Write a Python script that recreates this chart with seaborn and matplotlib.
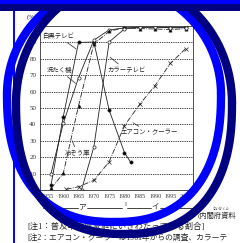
import numpy as np
import pandas as pd
import matplotlib
matplotlib.use("Agg")
import matplotlib.pyplot as plt
from matplotlib.patches import Rectangle
from matplotlib.lines import Line2D
import seaborn as sns

# diffusion rates (%)
bw_years = [1956, 1960, 1965, 1970, 1975, 1980, 1982]
bw_tv = [3, 44.7, 90, 90.2, 48.7, 22.8, 17]

wash_years = [1956, 1960, 1965, 1970, 1975, 1980, 1985, 1990, 1995, 2000]
washer = [10, 40.6, 68.5, 91.4, 97.6, 98.8, 99.2, 99.3, 99.0, 99.3]

fridge_years = [1956, 1960, 1965, 1970, 1975, 1980, 1985, 1990, 1995, 2000]
fridge = [1, 10.1, 51.4, 89.1, 96.7, 99.1, 98.4, 98.2, 97.8, 98.4]

color_years = [1966, 1970, 1975, 1980, 1985, 1990, 1995, 2000]
color_tv = [0.3, 26.3, 90.3, 98.2, 99.1, 99.4, 98.9, 99.0]

ac_years = [1961, 1965, 1970, 1975, 1980, 1985, 1990, 1995, 2000]
aircon = [0.4, 2.0, 5.9, 17.2, 39.2, 52.3, 63.7, 77.2, 86.2]

x_ticks = [1955, 1960, 1965, 1970, 1975, 1980, 1985, 1990, 1995, 2000]
y_ticks = [0, 10, 20, 30, 40, 50, 60, 70, 80, 90, 100]

sns.set_style("white")
plt.rcParams['font.family'] = ['Liberation Serif', 'Noto Sans CJK JP']

W, H = 240, 243
fig = plt.figure(figsize=(W / 100, H / 100), dpi=100)
ax = fig.add_axes([40 / W, 1 - 190 / H, 153 / W, 164 / H])

series = [
    (bw_years, bw_tv, "o", "k", "-"),
    (wash_years, washer, "o", "w", "-"),
    (fridge_years, fridge, "^", "k", "-."),
    (color_years, color_tv, "o", "w", "-"),
    (ac_years, aircon, "x", "k", "-."),
]
for yrs, vals, mk, fc, ls in series:
    sns.lineplot(x=yrs, y=vals, ax=ax, color="#222222", lw=0.6, linestyle=ls,
                 marker=mk, markersize=2.3, markerfacecolor=fc,
                 markeredgecolor="#222222", markeredgewidth=0.5, estimator=None)

ax.set_xlim(1952.4, 2002.4)
ax.set_ylim(0, 100)
ax.set_xticks(x_ticks)
ax.set_xticklabels([str(v) for v in x_ticks], fontsize=4.3)
ax.set_yticks(y_ticks)
ax.set_yticklabels([""] + [str(v) for v in y_ticks[1:]], fontsize=5)
ax.tick_params(length=1.2, width=0.5, pad=1.5, colors="#333333")
for y in y_ticks[1:-1]:
    ax.axhline(y, color="#222222", lw=0.6, ls=(0, (1.5, 1.2)), zorder=0)
for s in ax.spines.values():
    s.set_linewidth(0.6)
    s.set_color("#333333")
ax.set_xlabel("")
ax.set_ylabel("")

def note(text, xy, xytext):
    ax.annotate(text, xy=xy, xytext=xytext, fontsize=4.6, ha="center", va="center",
                arrowprops=dict(arrowstyle="-", lw=0.5, color="#222222",
                                shrinkA=0, shrinkB=0))

note("白黒テレビ", (1964.2, 86), (1958.3, 94))
note("洗たく機", (1964.0, 65), (1958.9, 73))
note("カラーテレビ", (1975.3, 81), (1980.5, 73))
note("エアコン・クーラー", (1982.8, 41), (1988.0, 35))
note("冷ぞう庫", (1962.9, 30), (1964.6, 22.5))

def fx(px):
    return px / W

def fy(py):
    return 1 - py / H

fig.text(fx(27), fy(17), "(%)", fontsize=5, ha="left", va="center")
fig.text(fx(82), fy(208), "ア", fontsize=5.5, ha="center", va="center")
fig.text(fx(155), fy(208), "イ", fontsize=5.5, ha="center", va="center")
for x0, x1 in [(43, 78), (87, 122), (127, 151), (160, 197)]:
    fig.add_artist(Line2D([fx(x0), fx(x1)], [fy(208), fy(208)], lw=0.6, color="#222222"))
fig.text(fx(125), fy(204), "‖", fontsize=5, ha="center", va="center", color="#555555")
fig.text(fx(221), fy(208.5), "ないかくふ", fontsize=2.4, ha="center", va="center")
fig.text(fx(198), fy(215), "(内閣府資料", fontsize=5.2, ha="left", va="center")
fig.text(fx(27), fy(227), "[注1：普及率は各家庭にいきわたっている割合]", fontsize=6, ha="left", va="center")
fig.text(fx(27), fy(238), "[注2：エアコン・クーラーは1961年からの調査、カラーテ",
         fontsize=5.6, ha="left", va="center")

# hand-drawn blue rings over the scan: elliptic top, fuller bottom
def ring(cx, cy, a, b_top, b_bot, n_bot, color, lw, z):
    t = np.linspace(0, 2 * np.pi, 500)
    c, s = np.cos(t), np.sin(t)
    up = s > 0
    ex = np.where(up, 1.0, 2 / n_bot)
    px = cx + a * np.sign(c) * np.abs(c) ** ex
    py = np.where(up, cy - b_top * np.abs(s), cy + b_bot * np.abs(s) ** (2 / n_bot))
    fig.add_artist(Line2D(fx(px), fy(py), color=color, lw=lw, zorder=z,
                          solid_capstyle="round"))

ring(114, 94, 107, 108, 128, 2.4, "#0000ff", 6, 10)
ring(124, 103, 108, 120, 131, 2.4, "#000080", 6, 11)
fig.add_artist(Rectangle((0, fy(11)), 1, 7 / H, transform=fig.transFigure,
                         color="#000080", lw=0, zorder=12))
fig.add_artist(Rectangle((0, fy(4)), 1, 4 / H, transform=fig.transFigure,
                         color="#0000ff", lw=0, zorder=12))
fig.add_artist(Line2D([fx(14), fx(14)], [0, fy(11)], lw=1.4, color="#0000ff", zorder=9))

fig.savefig("out.png", dpi=100)
